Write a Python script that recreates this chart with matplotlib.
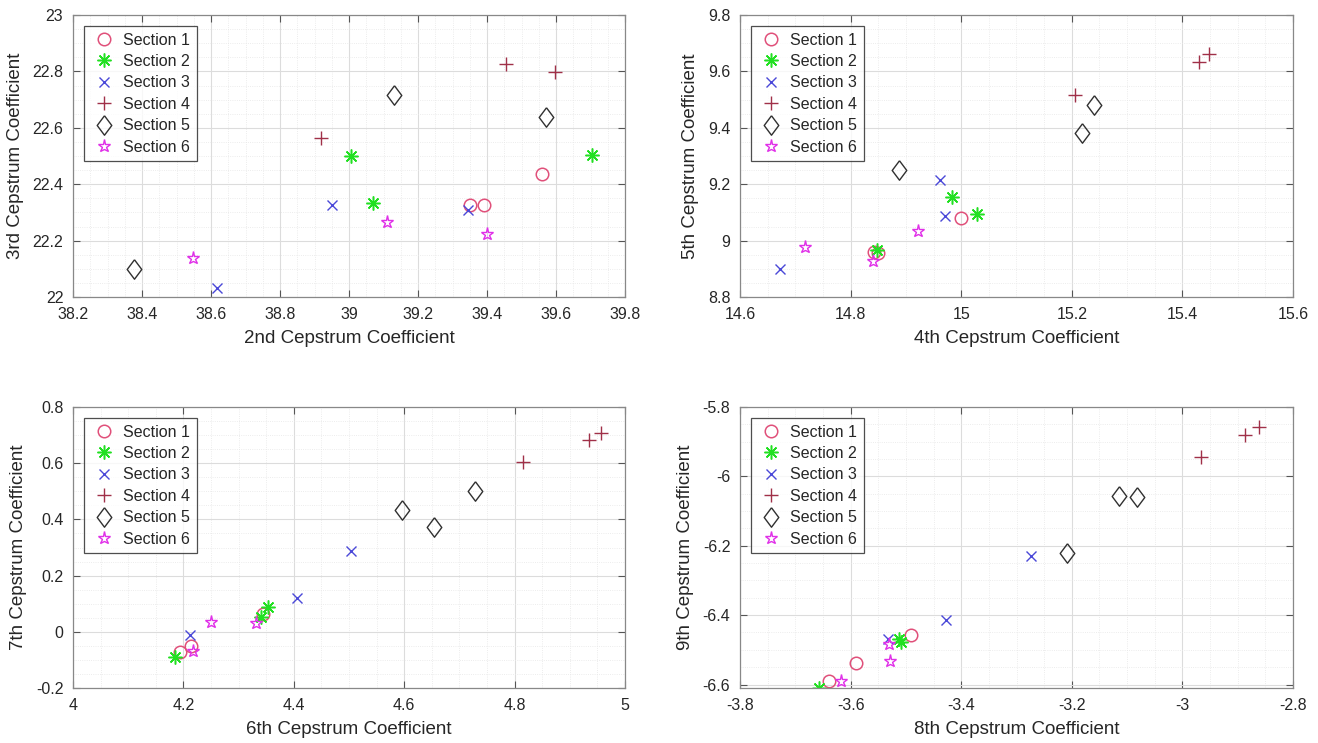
import matplotlib
matplotlib.use("Agg")
import matplotlib.pyplot as plt
from matplotlib.ticker import MultipleLocator, AutoMinorLocator

plt.rcParams['font.family'] = ['Liberation Sans', 'DejaVu Sans']

sections = ["Section 1", "Section 2", "Section 3", "Section 4", "Section 5", "Section 6"]

# coefficient pairs per section (x, y)
c2 = [[39.35, 39.39, 39.56], [39.007, 39.07, 39.704], [38.95, 39.346, 38.618],
      [38.919, 39.455, 39.596], [39.129, 39.571, 38.377], [38.549, 39.11, 39.40]]
c3 = [[22.325, 22.327, 22.435], [22.50, 22.333, 22.504], [22.326, 22.307, 22.031],
      [22.564, 22.826, 22.799], [22.717, 22.639, 22.098], [22.139, 22.267, 22.224]]

c4 = [[14.842, 14.849, 14.999], [14.848, 14.984, 15.029], [14.673, 14.961, 14.97],
      [15.205, 15.43, 15.449], [14.887, 15.219, 15.24], [14.718, 14.841, 14.921]]
c5 = [[8.96, 8.955, 9.08], [8.967, 9.154, 9.095], [8.899, 9.214, 9.087],
      [9.515, 9.633, 9.663], [9.25, 9.381, 9.481], [8.977, 8.927, 9.034]]

c6 = [[4.194, 4.213, 4.345], [4.184, 4.341, 4.353], [4.212, 4.406, 4.503],
      [4.815, 4.934, 4.956], [4.596, 4.654, 4.728], [4.25, 4.331, 4.217]]
c7 = [[-0.071, -0.051, 0.062], [-0.09, 0.054, 0.088], [-0.012, 0.119, 0.286],
      [0.606, 0.681, 0.707], [0.433, 0.374, 0.50], [0.036, 0.032, -0.069]]

c8 = [[-3.639, -3.591, -3.491], [-3.658, -3.512, -3.508], [-3.533, -3.428, -3.274],
      [-2.967, -2.886, -2.861], [-3.114, -3.082, -3.208], [-3.618, -3.531, -3.528]]
c9 = [[-6.589, -6.537, -6.457], [-6.609, -6.468, -6.478], [-6.468, -6.415, -6.230],
      [-5.944, -5.882, -5.857], [-6.056, -6.058, -6.221], [-6.589, -6.482, -6.531]]

diamond = [(0, 1), (0.75, 0), (0, -1), (-0.75, 0), (0, 1)]

styles = [
    dict(marker='o', color='#e0507a', ms=9, mfc='none', mew=1.1),
    dict(marker=(8, 2, 0), color='#22e022', ms=10, mew=1.1),
    dict(marker='x', color='#4a48d8', ms=7, mew=1.0),
    dict(marker='+', color='#a03048', ms=10, mew=1.0),
    dict(marker=diamond, color='#303030', ms=14, mfc='none', mew=1.0),
    dict(marker='*', color='#e030e8', ms=9.5, mfc='none', mew=1.0),
]

panels = [
    (c2, c3, "2nd Cepstrum Coefficient", "3rd Cepstrum Coefficient", (38.2, 39.8), (22, 23)),
    (c4, c5, "4th Cepstrum Coefficient", "5th Cepstrum Coefficient", (14.6, 15.6), (8.8, 9.8)),
    (c6, c7, "6th Cepstrum Coefficient", "7th Cepstrum Coefficient", (4, 5), (-0.2, 0.8)),
    (c8, c9, "8th Cepstrum Coefficient", "9th Cepstrum Coefficient", (-3.8, -2.8), (-6.61, -5.8)),
]

boxes = [
    [73 / 1318, 1 - 297 / 743, 552 / 1318, 282 / 743],
    [740 / 1318, 1 - 297 / 743, 553 / 1318, 282 / 743],
    [73 / 1318, 1 - 688 / 743, 552 / 1318, 281 / 743],
    [740 / 1318, 1 - 688 / 743, 553 / 1318, 281 / 743],
]

fig = plt.figure(figsize=(13.18, 7.43), dpi=100)
txt = '#262626'
fmt = plt.FuncFormatter(lambda v, p: ('%.1f' % v).rstrip('0').rstrip('.'))

for (xs, ys, xl, yl, xlim, ylim), box in zip(panels, boxes):
    ax = fig.add_axes(box)
    for k in range(6):
        ax.plot(xs[k], ys[k], linestyle='none', label=sections[k], **styles[k])
    ax.set_xlim(xlim)
    ax.set_ylim(ylim)
    ax.xaxis.set_major_locator(MultipleLocator(0.2))
    ax.yaxis.set_major_locator(MultipleLocator(0.2))
    ax.xaxis.set_minor_locator(AutoMinorLocator(4))
    ax.yaxis.set_minor_locator(AutoMinorLocator(4))
    ax.xaxis.set_major_formatter(fmt)
    ax.yaxis.set_major_formatter(fmt)
    ax.grid(True, which='major', color='#dcdcdc', linewidth=0.8)
    ax.grid(True, which='minor', color='#e6e6e6', linewidth=0.6, linestyle=':')
    ax.set_axisbelow(True)
    ax.tick_params(which='both', direction='in', top=True, right=True,
                   labelsize=11.5, colors='#555555', labelcolor=txt)
    ax.tick_params(which='major', length=5, pad=7)
    ax.tick_params(which='minor', length=0)
    for s in ax.spines.values():
        s.set_color('#888888')
        s.set_linewidth(0.9)
    ax.set_xlabel(xl, fontsize=13.5, color=txt, labelpad=6)
    ax.set_ylabel(yl, fontsize=13.5, color=txt, labelpad=6)
    leg = ax.legend(loc='upper left', fontsize=11.5, frameon=True, fancybox=False,
                    borderaxespad=0.7, handletextpad=0.35, labelspacing=0.4,
                    borderpad=0.4, handlelength=1.7)
    leg.get_frame().set_edgecolor('#222222')
    leg.get_frame().set_linewidth(0.9)
    for t in leg.get_texts():
        t.set_color(txt)

fig.savefig("out.png", dpi=100)
